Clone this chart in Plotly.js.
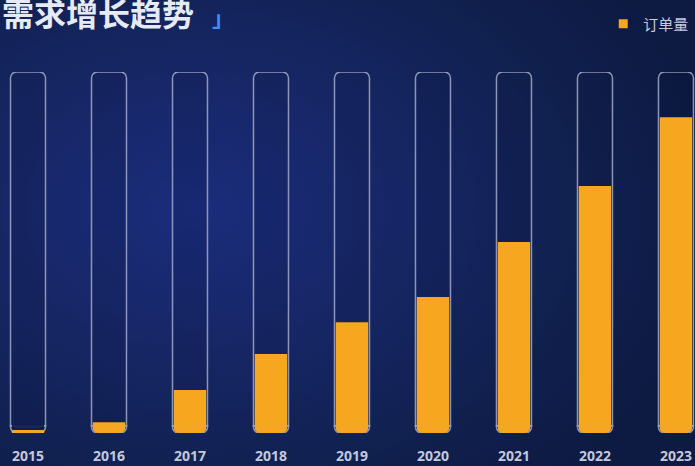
<!DOCTYPE html>
<html>
<head>
<meta charset="utf-8">
<script src="https://cdn.plot.ly/plotly-3.0.1.min.js"></script>
<style>
  html, body { margin: 0; padding: 0; }
  body {
    width: 695px; height: 466px; overflow: hidden;
    background: radial-gradient(ellipse 75% 80% at 28% 45%, #1b2c7c 0%, #162664 40%, #10204e 75%, #0d1a42 100%);
  }
  #chart { width: 695px; height: 466px; }
</style>
</head>
<body>
<div id="chart"></div>
<script>
// ---- data ----
const years = ['2015', '2016', '2017', '2018', '2019', '2020', '2021', '2022', '2023'];
const orders = [0.8, 3.0, 11.9, 21.9, 30.7, 37.7, 52.9, 68.4, 87.5];
const capacity = [100, 100, 100, 100, 100, 100, 100, 100, 100];
const seriesName = '订单量';
const chartTitle = '需求增长趋势';

// ---- drawing helpers: axis zero sits just above the track bottom so the
// bottom caps are negative bars (rounded at the bottom) ----
const seam = 2;
const capTop = capacity.map(c => c - seam);
const capBot = capacity.map(() => -seam);
const coverY = orders.map(v => (v < seam ? 0.6 : null));
const coverBase = orders.map(v => (v < seam ? -0.3 : null));
const fillCap = orders.map(v => (v >= seam ? -seam : null));
const fillBodyBase = orders.map(v => (v >= seam ? 0 : -seam));
const fillBody = orders.map(v => (v >= seam ? v - seam : v));

const outline = { color: 'rgba(165,170,200,0.85)', width: 1.5 };
const trackFill = 'rgba(12,18,50,0.12)';
const orange = '#F7A620';
const capW = 0.432, fillW = 0.40, radius = 6;

const traces = [
  { type: 'bar', x: years, y: capTop, width: capW,
    marker: { color: trackFill, line: outline, cornerradius: radius },
    showlegend: false, hoverinfo: 'skip', cliponaxis: false },
  { type: 'bar', x: years, y: capBot, width: capW,
    marker: { color: trackFill, line: outline, cornerradius: radius },
    showlegend: false, hoverinfo: 'skip', cliponaxis: false },
  { type: 'bar', x: years, y: coverY, base: coverBase, width: 0.395,
    marker: { color: 'rgb(17,32,80)', line: { width: 0 } },
    showlegend: false, hoverinfo: 'skip', cliponaxis: false },
  { type: 'bar', x: years, y: fillCap, width: fillW,
    marker: { color: orange, line: { width: 0 }, cornerradius: 5 },
    showlegend: false, hoverinfo: 'skip', cliponaxis: false },
  { type: 'bar', x: years, y: fillBody, base: fillBodyBase, width: fillW, name: seriesName,
    marker: { color: orange, line: { width: 0 } },
    showlegend: false, cliponaxis: false },
  { type: 'scatter', mode: 'markers', x: [null], y: [null], name: seriesName,
    marker: { symbol: 'square', size: 9, color: orange }, showlegend: true, hoverinfo: 'skip' }
];

const layout = {
  width: 695, height: 466,
  paper_bgcolor: 'rgba(0,0,0,0)', plot_bgcolor: 'rgba(0,0,0,0)',
  margin: { l: 0, r: 0, t: 72, b: 33, pad: 0 },
  barmode: 'overlay',
  title: {
    text: chartTitle,
    x: 0.003, xref: 'container', xanchor: 'left',
    y: 0.968, yref: 'container', yanchor: 'middle',
    font: { family: 'Noto Sans CJK SC', size: 32, color: '#e6eaf6', weight: 'bold' }
  },
  annotations: [{
    text: '」', xref: 'paper', yref: 'paper', x: 0.321, y: 1.156,
    xanchor: 'center', yanchor: 'middle', showarrow: false,
    font: { family: 'Noto Sans CJK SC', size: 22, color: '#3f8ef7', weight: 'bold' }
  }],
  xaxis: {
    type: 'category', range: [-0.3457, 8.235], fixedrange: true,
    showgrid: false, zeroline: false, showline: false,
    ticks: 'outside', ticklen: 10, tickcolor: 'rgba(0,0,0,0)',
    tickfont: { family: 'Noto Sans', size: 14, color: '#c3c8dc', weight: 'bold' }
  },
  yaxis: { range: [-seam, 100 - seam], visible: false, fixedrange: true, zeroline: false },
  showlegend: true,
  legend: {
    orientation: 'h', x: 0.868, xanchor: 'left', y: 1.133, yanchor: 'middle',
    bgcolor: 'rgba(0,0,0,0)',
    font: { family: 'Noto Sans CJK SC', size: 15, color: '#c6cadf' }
  }
};

Plotly.newPlot('chart', traces, layout, { displayModeBar: false, staticPlot: true });
</script>
</body>
</html>
